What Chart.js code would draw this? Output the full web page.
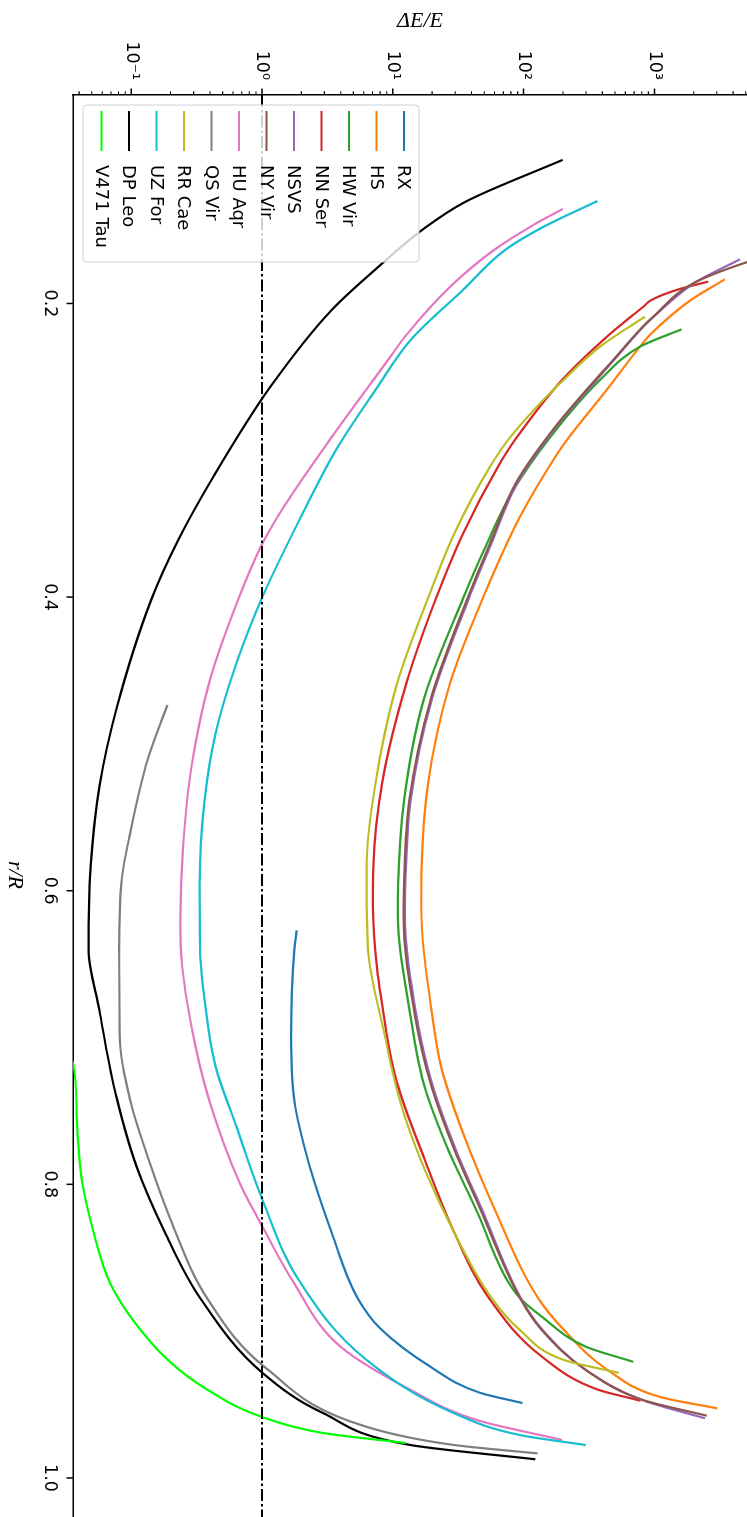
<!DOCTYPE html>
<html>
<head>
<meta charset="utf-8">
<script src="https://cdn.jsdelivr.net/npm/chart.js@4.4.1/dist/chart.umd.min.js"></script>
<style>
  html, body { margin: 0; padding: 0; background: #fff; overflow: hidden; width: 747px; height: 1517px; }
  /* the figure is laid out landscape and turned a quarter clockwise onto the page */
  #plot { position: absolute; left: 0; top: 0; width: 1655px; height: 767px;
          transform-origin: 0 0; transform: translate(767px, 0) rotate(90deg); }
</style>
</head>
<body>
<div id="plot"><canvas id="c" width="1655" height="767"></canvas></div>
<script>
// ---- axes ----
const rMin = 0.058, rMax = 1.1206;          // r/R range
const eMin = 0.0359, eMax = 7260;           // ΔE/E range (log)
const rTicks = [0.2, 0.4, 0.6, 0.8, 1.0];
const eTicks = [0.1, 1, 10, 100, 1000];
const eTickLabels = ['10\u207B\u00B9', '10\u2070', '10\u00B9', '10\u00B2', '10\u00B3'];
const refLevel = 1;                          // ΔE/E = 1 reference

// ---- series: r/R and ΔE/E ----
const rxR = [0.627, 0.640, 0.697, 0.743, 0.788, 0.833, 0.878, 0.898, 0.924, 0.942, 0.949];
const rxE = [1.84, 1.77, 1.67, 1.77, 2.32, 3.41, 5.42, 7.98, 19.2, 46.4, 98.1];

const hsR = [0.1835, 0.1976, 0.2203, 0.2294, 0.2589, 0.2930, 0.3044, 0.3452, 0.4008, 0.4587, 0.5268, 0.5837, 0.611, 0.6858, 0.7199, 0.7653, 0.8175, 0.8775, 0.8993, 0.9265, 0.9449, 0.9526];
const hsE = [3467, 1905, 952, 776, 432, 214, 175, 94.0, 48.8, 27.4, 18.6, 16.6, 16.5, 20.1, 23.4, 34.5, 60.4, 129, 204, 440, 1112, 3027];

const hwR = [0.2176, 0.2294, 0.2521, 0.2907, 0.3293, 0.3679, 0.4008, 0.4701, 0.5382, 0.5950, 0.617, 0.6858, 0.7312, 0.7721, 0.8175, 0.8652, 0.8775, 0.8902, 0.9106, 0.9209];
const hwE = [1617, 776, 384, 161, 80.7, 49.8, 34.5, 17.2, 12.2, 11.0, 10.95, 13.7, 17.2, 25.3, 43.5, 74.7, 93.8, 138, 299, 689];

const nnR = [0.1851, 0.1908, 0.1976, 0.2022, 0.2226, 0.2521, 0.2930, 0.3112, 0.3565, 0.4008, 0.4587, 0.5268, 0.5837, 0.611, 0.6969, 0.7312, 0.7812, 0.8332, 0.8775, 0.9174, 0.9401, 0.9474];
const nnE = [2585, 1480, 952, 823, 434, 197, 85.9, 63.7, 34.5, 21.4, 12.7, 8.28, 7.10, 7.05, 8.95, 10.8, 17.2, 29.6, 54.4, 138, 377, 785];

const nsR = [0.1699, 0.1862, 0.2090, 0.2158, 0.2385, 0.2499, 0.2839, 0.3225, 0.3634, 0.4008, 0.4701, 0.5382, 0.5950, 0.617, 0.6858, 0.7312, 0.7767, 0.8175, 0.8775, 0.8993, 0.9265, 0.9469, 0.9594];
const nsE = [4512, 2010, 990, 825, 490, 380, 178, 89, 56.9, 38.2, 19.8, 13.7, 12.5, 12.4, 15.2, 19.9, 30.4, 48.2, 95, 140, 300, 805, 2438];

const nyR = [0.1699, 0.1726, 0.1862, 0.2090, 0.2158, 0.2385, 0.2499, 0.2839, 0.3225, 0.3634, 0.4008, 0.4701, 0.5382, 0.5950, 0.617, 0.6858, 0.7312, 0.7767, 0.8175, 0.8775, 0.8993, 0.9265, 0.9469, 0.9576];
const nyE = [6085, 4808, 1983, 981, 815, 485, 371, 175, 87.0, 55.4, 37.3, 19.4, 13.4, 12.2, 12.1, 14.8, 19.4, 29.6, 47.0, 93.8, 138, 299, 815, 2512];

const huR = [0.1356, 0.1465, 0.1636, 0.1874, 0.2226, 0.2385, 0.2907, 0.3384, 0.3634, 0.4020, 0.4585, 0.5155, 0.5723, 0.6177, 0.6404, 0.6926, 0.7426, 0.7992, 0.8289, 0.8652, 0.9106, 0.9401, 0.9605, 0.9741];
const huE = [199, 119, 59.4, 28.4, 12.4, 9.19, 3.43, 1.47, 1.01, 0.656, 0.394, 0.289, 0.248, 0.238, 0.240, 0.289, 0.394, 0.675, 1.01, 1.70, 3.98, 13.7, 43.5, 197];

const qsR = [0.4735, 0.511, 0.561, 0.595, 0.639, 0.697, 0.7426, 0.781, 0.8264, 0.8775, 0.9252, 0.9652, 0.9776, 0.9833];
const qsE = [0.189, 0.1334, 0.0981, 0.0840, 0.0810, 0.0815, 0.0981, 0.1334, 0.205, 0.380, 1.073, 6.31, 29.6, 128];

const rrR = [0.2090, 0.2294, 0.2544, 0.2725, 0.2930, 0.3112, 0.3565, 0.4008, 0.4587, 0.5268, 0.5837, 0.6392, 0.6969, 0.7426, 0.7880, 0.8332, 0.8775, 0.8993, 0.9197, 0.9284];
const rrE = [847, 384, 190, 120, 76.0, 55.4, 29.6, 18.6, 10.8, 7.38, 6.31, 6.46, 8.61, 11.3, 17.2, 29.6, 56.9, 94.0, 204, 534];

const uzR = [0.1302, 0.1479, 0.1636, 0.1908, 0.2249, 0.2589, 0.2998, 0.3452, 0.3997, 0.4474, 0.4928, 0.5382, 0.5950, 0.6392, 0.6745, 0.7199, 0.7584, 0.8107, 0.8652, 0.9197, 0.9560, 0.9708, 0.9776];
const uzE = [367, 141, 72.1, 34.4, 13.7, 7.38, 3.68, 1.99, 1.01, 0.625, 0.442, 0.364, 0.334, 0.336, 0.364, 0.442, 0.625, 1.01, 1.91, 6.31, 29.6, 93.8, 299];

const dpR = [0.1022, 0.1309, 0.1511, 0.1715, 0.2044, 0.2567, 0.318, 0.3611, 0.402, 0.4747, 0.5292, 0.5837, 0.6392, 0.6813, 0.7358, 0.788, 0.8332, 0.8775, 0.9285, 0.9558, 0.9776, 0.9873];
const dpE = [199, 35.6, 16.1, 8.61, 3.41, 1.16, 0.425, 0.229, 0.142, 0.0779, 0.0571, 0.0490, 0.0472, 0.0571, 0.0749, 0.110, 0.182, 0.337, 1.01, 2.93, 13.7, 123];

const vtR = [0.705, 0.7187, 0.7562, 0.7992, 0.8311, 0.8672, 0.8924, 0.9197, 0.9401, 0.9585, 0.9694, 0.9762];
const vtE = [0.030, 0.0362, 0.0385, 0.0424, 0.0510, 0.0689, 0.103, 0.191, 0.386, 1.0, 2.93, 12.6];

const series = [
  { label: 'RX',       r: rxR, e: rxE, color: '#1f77b4' },
  { label: 'HS',       r: hsR, e: hsE, color: '#ff7f0e' },
  { label: 'HW Vir',   r: hwR, e: hwE, color: '#2ca02c' },
  { label: 'NN Ser',   r: nnR, e: nnE, color: '#d62728' },
  { label: 'NSVS',     r: nsR, e: nsE, color: '#9467bd' },
  { label: 'NY Vir',   r: nyR, e: nyE, color: '#8c564b' },
  { label: 'HU Aqr',   r: huR, e: huE, color: '#e377c2' },
  { label: 'QS Vir',   r: qsR, e: qsE, color: '#7f7f7f' },
  { label: 'RR Cae',   r: rrR, e: rrE, color: '#bcbd22' },
  { label: 'UZ For',   r: uzR, e: uzE, color: '#17becf' },
  { label: 'DP Leo',   r: dpR, e: dpE, color: '#000000' },
  { label: 'V471 Tau', r: vtR, e: vtE, color: '#00ff00' }
];

const datasets = series.map((s, i) => ({
  label: s.label,
  data: s.r.map((r, k) => ({ x: r, y: s.e[k] })),
  borderColor: s.color,
  backgroundColor: s.color,
  borderWidth: 2.2,
  pointRadius: 0,
  fill: false,
  cubicInterpolationMode: 'monotone',
  order: series.length - i + 1      // later series drawn over earlier ones
}));
datasets.push({
  label: '_ref',
  data: [{ x: rMin, y: refLevel }, { x: rMax, y: refLevel }],
  borderColor: '#000',
  borderWidth: 2,
  borderDash: [12, 3, 2.5, 3],
  pointRadius: 0,
  fill: false,
  order: 0
});

// outward tick marks (major + log minor)
const tickMarks = {
  id: 'tickMarks',
  afterDraw(chart) {
    const { ctx, chartArea: a, scales: { x, y } } = chart;
    ctx.save();
    ctx.strokeStyle = '#000';
    ctx.lineWidth = 1.5;
    ctx.beginPath();
    rTicks.forEach(v => { const p = x.getPixelForValue(v); ctx.moveTo(p, a.bottom); ctx.lineTo(p, a.bottom + 6.5); });
    eTicks.forEach(v => { const p = y.getPixelForValue(v); ctx.moveTo(a.left, p); ctx.lineTo(a.left - 6.5, p); });
    ctx.stroke();
    ctx.lineWidth = 1.1;
    ctx.beginPath();
    for (let k = Math.floor(Math.log10(eMin)); k <= Math.ceil(Math.log10(eMax)); k++) {
      for (let m = 2; m <= 9; m++) {
        const v = m * Math.pow(10, k);
        if (v < eMin || v > eMax) continue;
        const p = y.getPixelForValue(v);
        ctx.moveTo(a.left, p); ctx.lineTo(a.left - 3.7, p);
      }
    }
    ctx.stroke();
    ctx.restore();
  }
};

// framed legend inside the lower-left corner of the plot
const insetLegend = {
  id: 'insetLegend',
  afterDraw(chart) {
    const { ctx, chartArea: a } = chart;
    const items = chart.data.datasets.filter(d => !d.label.startsWith('_'));
    const rowH = 27.5, boxW = 157, boxH = items.length * rowH + 6;
    const left = a.left + 10, top = a.bottom - 10 - boxH, rad = 4;
    ctx.save();
    ctx.beginPath();
    ctx.moveTo(left + rad, top);
    ctx.lineTo(left + boxW - rad, top);
    ctx.quadraticCurveTo(left + boxW, top, left + boxW, top + rad);
    ctx.lineTo(left + boxW, top + boxH - rad);
    ctx.quadraticCurveTo(left + boxW, top + boxH, left + boxW - rad, top + boxH);
    ctx.lineTo(left + rad, top + boxH);
    ctx.quadraticCurveTo(left, top + boxH, left, top + boxH - rad);
    ctx.lineTo(left, top + rad);
    ctx.quadraticCurveTo(left, top, left + rad, top);
    ctx.closePath();
    ctx.fillStyle = 'rgba(255,255,255,0.8)';
    ctx.fill();
    ctx.strokeStyle = '#d0d0d0';
    ctx.lineWidth = 1;
    ctx.stroke();
    ctx.font = '18px "DejaVu Sans"';
    ctx.textBaseline = 'middle';
    ctx.textAlign = 'left';
    items.forEach((d, i) => {
      const cy = top + 15 + i * rowH;
      ctx.strokeStyle = d.borderColor;
      ctx.lineWidth = 2.2;
      ctx.beginPath();
      ctx.moveTo(left + 6, cy);
      ctx.lineTo(left + 46, cy);
      ctx.stroke();
      ctx.fillStyle = '#000';
      ctx.fillText(d.label, left + 60, cy + 1);
    });
    ctx.restore();
  }
};

const tickFont = { family: 'DejaVu Sans', size: 17.5 };
const titleFont = { family: 'Liberation Serif', size: 22, style: 'italic' };

new Chart(document.getElementById('c'), {
  type: 'line',
  data: { datasets },
  options: {
    responsive: false,
    animation: false,
    devicePixelRatio: 1,
    layout: { padding: 0, autoPadding: false },
    plugins: { legend: { display: false }, tooltip: { enabled: false } },
    scales: {
      x: {
        type: 'linear', position: 'bottom', min: rMin, max: rMax,
        grid: { display: false, drawTicks: false, tickLength: 0 },
        border: { display: true, color: '#000', width: 1.5 },
        afterBuildTicks(s) { s.ticks = rTicks.map(v => ({ value: v })); },
        afterFit(s) { s.height = 73; s.paddingLeft = 0; s.paddingRight = 0; },
        ticks: { autoSkip: false, maxRotation: 0, minRotation: 0, padding: 13, color: '#000', font: tickFont,
                 callback: v => Number(v).toFixed(1) },
        title: { display: true, text: 'r/R', color: '#000', font: titleFont, padding: { top: 0, bottom: 2 } }
      },
      y: {
        type: 'logarithmic', position: 'left', min: eMin, max: eMax,
        grid: { display: false, drawTicks: false, tickLength: 0 },
        border: { display: true, color: '#000', width: 1.5 },
        afterBuildTicks(s) { s.ticks = eTicks.map(v => ({ value: v })); },
        afterFit(s) { s.width = 95; s.paddingTop = 0; s.paddingBottom = 0; },
        ticks: { autoSkip: false, padding: 15, color: '#000', font: tickFont,
                 callback: (v, i) => eTickLabels[i] },
        title: { display: true, text: '\u0394E/E', color: '#000', font: titleFont, padding: { top: 8, bottom: 0 } }
      }
    }
  },
  plugins: [tickMarks, insetLegend]
});
</script>
</body>
</html>
